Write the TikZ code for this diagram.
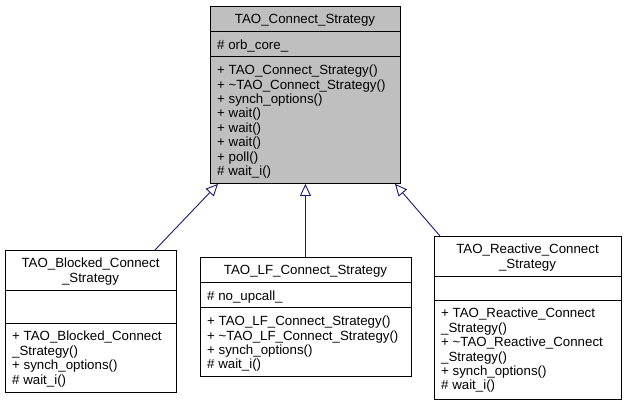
\documentclass[tikz,border=0pt]{standalone}
\usepackage{fontspec}
\setmainfont{Liberation Sans}
\usetikzlibrary{arrows.meta,calc}
\definecolor{edgeblue}{HTML}{191970}
\definecolor{basefill}{HTML}{BFBFBF}
\begin{document}
\begin{tikzpicture}[x=1pt,y=-1pt,
  box/.style={draw=black, line width=0.9pt, rectangle, inner sep=0pt, anchor=north west},
  txt/.style={inner sep=0pt, anchor=base west, font=\fontsize{13.3}{14.4}\selectfont},
  ttl/.style={inner sep=0pt, anchor=base, font=\fontsize{13.3}{14.4}\selectfont},
  sep/.style={draw=black, line width=0.9pt},
  inh/.style={draw=edgeblue, line width=0.9pt, -{Triangle[open, length=12pt, width=11pt]}}]
\useasboundingbox (0,0) rectangle (624,405);
% base class
\node[box, fill=basefill, minimum width=190pt, minimum height=177pt] (base) at (210,6) {};
\draw[sep] (210,31.4) -- (400,31.4);
\draw[sep] (210,56.8) -- (400,56.8);
\node[ttl] (b0) at (305,23.8) {TAO\_Connect\_Strategy};
\node[txt] (b1) at (217,49.2) {\# orb\_core\_};
\node[txt] (b2) at (217,74.6) {+ TAO\_Connect\_Strategy()};
\node[txt] (b3) at (217,89.0) {+ \textasciitilde TAO\_Connect\_Strategy()};
\node[txt] (b4) at (217,103.4) {+ synch\_options()};
\node[txt] (b5) at (217,117.8) {+ wait()};
\node[txt] (b6) at (217,132.2) {+ wait()};
\node[txt] (b7) at (217,146.6) {+ wait()};
\node[txt] (b8) at (217,161.0) {+ poll()};
\node[txt] (b9) at (217,175.4) {\# wait\_i()};
% blocked
\node[box, fill=white, minimum width=171pt, minimum height=142pt] (blocked) at (5,250) {};
\draw[sep] (5,290) -- (176,290);
\draw[sep] (5,323) -- (176,323);
\node[ttl] (k0) at (90.5,267.8) {TAO\_Blocked\_Connect};
\node[ttl] (k1) at (90.5,282.2) {\_Strategy};
\node[txt] (k2) at (12,340.8) {+ TAO\_Blocked\_Connect};
\node[txt] (k3) at (12,355.2) {\_Strategy()};
\node[txt] (k4) at (12,369.6) {+ synch\_options()};
\node[txt] (k5) at (12,384.0) {\# wait\_i()};
% LF
\node[box, fill=white, minimum width=211pt, minimum height=119.4pt] (lf) at (200,257) {};
\draw[sep] (200,282.4) -- (411,282.4);
\draw[sep] (200,307.8) -- (411,307.8);
\node[ttl] (l0) at (305.5,274.8) {TAO\_LF\_Connect\_Strategy};
\node[txt] (l1) at (207,300.2) {\# no\_upcall\_};
\node[txt] (l2) at (207,325.6) {+ TAO\_LF\_Connect\_Strategy()};
\node[txt] (l3) at (207,340.0) {+ \textasciitilde TAO\_LF\_Connect\_Strategy()};
\node[txt] (l4) at (207,354.4) {+ synch\_options()};
\node[txt] (l5) at (207,368.8) {\# wait\_i()};
% reactive
\node[box, fill=white, minimum width=187pt, minimum height=163pt] (reactive) at (434,236) {};
\draw[sep] (434,276) -- (621,276);
\draw[sep] (434,300) -- (621,300);
\node[ttl] (r0) at (527.5,253.8) {TAO\_Reactive\_Connect};
\node[ttl] (r1) at (527.5,268.2) {\_Strategy};
\node[txt] (r2) at (441,317.8) {+ TAO\_Reactive\_Connect};
\node[txt] (r3) at (441,332.2) {\_Strategy()};
\node[txt] (r4) at (441,346.6) {+ \textasciitilde TAO\_Reactive\_Connect};
\node[txt] (r5) at (441,361.0) {\_Strategy()};
\node[txt] (r6) at (441,375.4) {+ synch\_options()};
\node[txt] (r7) at (441,389.8) {\# wait\_i()};
% inheritance
\draw[inh] ($(blocked.north west)+(150,0)$) -- ($(base.south west)+(8,0)$);
\draw[inh] (lf.north -| base.south) -- (base.south);
\draw[inh] ($(reactive.north west)+(6,0)$) -- ($(base.south west)+(185,0)$);
\end{tikzpicture}
\end{document}
